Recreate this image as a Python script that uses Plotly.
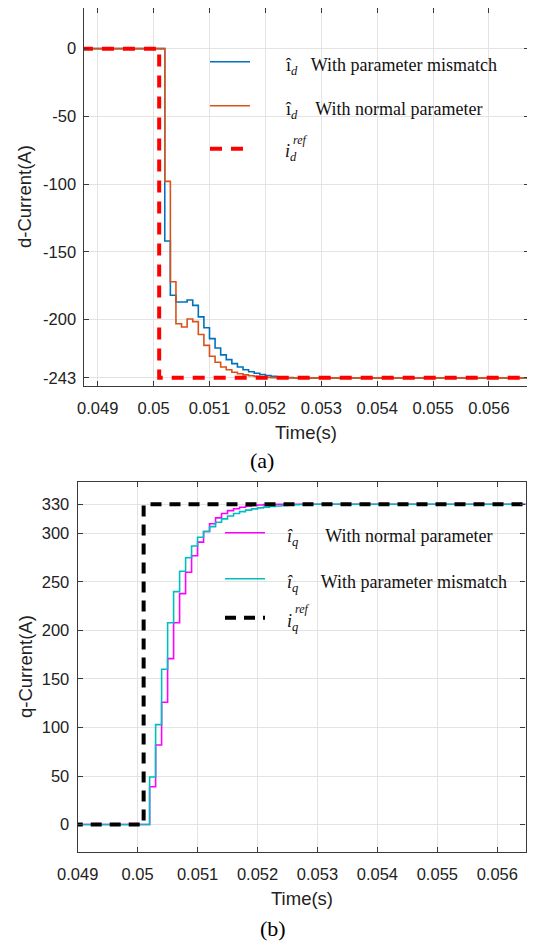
import plotly.graph_objects as go

# ---------------- data: (a) d-axis current ----------------
d_time = [0.0487, 0.0502, 0.0503, 0.0504, 0.0505, 0.0506, 0.0507, 0.0508, 0.0509,
          0.0510, 0.0511, 0.0512, 0.0513, 0.0514, 0.0515, 0.0516, 0.0517, 0.0518,
          0.0519, 0.0520, 0.0521, 0.0522, 0.0523, 0.0524, 0.0525, 0.0526, 0.0568]
d_mismatch = [0, -142, -182, -187, -187, -185.5, -189.5, -198, -206,
              -214, -221, -226, -229.5, -232.5, -235, -237, -238.5, -239.6,
              -240.5, -241.2, -241.8, -242.2, -242.5, -242.8, -243, -243, -243]
d_normal = [0, -98, -172, -203, -205.5, -199.5, -201.5, -211, -219,
            -227, -231.5, -235, -237, -238.8, -240, -240.8, -241.4, -241.9,
            -242.3, -242.6, -242.8, -243, -243, -243, -243, -243, -243]
d_ref_time = [0.0487, 0.0501, 0.0568]
d_ref = [0, -243, -243]

# ---------------- data: (b) q-axis current ----------------
q_time = [0.0489, 0.0502, 0.0503, 0.0504, 0.0505, 0.0506, 0.0507, 0.0508, 0.0509,
          0.0510, 0.0511, 0.0512, 0.0513, 0.0514, 0.0515, 0.0516, 0.0517, 0.0518,
          0.0519, 0.0520, 0.0521, 0.0522, 0.0523, 0.0524, 0.0525, 0.0526, 0.0527,
          0.0528, 0.0566]
q_normal = [0, 39, 82, 126, 171, 208, 238, 260, 277,
            291, 302, 310, 316, 320.5, 323.5, 325.5, 327, 328,
            328.8, 329.3, 329.7, 330, 330, 330, 330, 330, 330,
            330, 330]
q_mismatch = [0, 49, 103, 160, 208, 240, 261, 275, 287,
              296, 302, 307, 311.5, 315, 318, 320.5, 322.5, 324,
              325.3, 326.3, 327.1, 327.8, 328.3, 328.8, 329.2, 329.5, 329.8,
              330, 330]
q_ref_time = [0.0489, 0.0501, 0.0566]
q_ref = [0, 330, 330]

d_yticks = [0, -50, -100, -150, -200, -243]
d_yticklabels = ["0", "-50", "-100", "-150", "-200", "-243"]
q_yticks = [0, 50, 100, 150, 200, 250, 300, 330]
q_yticklabels = ["0", "50", "100", "150", "200", "250", "300", "330"]
x_ticks = [0.049, 0.05, 0.051, 0.052, 0.053, 0.054, 0.055, 0.056]
x_ticklabels = ["0.049", "0.05", "0.051", "0.052", "0.053", "0.054", "0.055", "0.056"]

# page body has an 8px margin: the figure starts at (8, 8) in the window
OFF = 8
W, H = 535 - OFF, 945 - OFF


def px(x):
    return (x - OFF) / W


def py(y):
    return 1 - (y - OFF) / H


fig = go.Figure()

LW = 1.6
# top
fig.add_trace(go.Scatter(x=d_time, y=d_mismatch, mode="lines", line=dict(color="#0072BD", width=LW, shape="hv"),
                         name="\u00a0", legend="legend", xaxis="x", yaxis="y"))
fig.add_trace(go.Scatter(x=d_time, y=d_normal, mode="lines", line=dict(color="#D95319", width=LW, shape="hv"),
                         name="\u00a0", legend="legend2", xaxis="x", yaxis="y"))
fig.add_trace(go.Scatter(x=d_ref_time, y=d_ref, mode="lines",
                         line=dict(color="#FF0000", width=4, shape="hv", dash="12px,9px"),
                         name="\u00a0", legend="legend3", xaxis="x", yaxis="y"))
# bottom
fig.add_trace(go.Scatter(x=q_time, y=q_normal, mode="lines", line=dict(color="#FF00FF", width=LW, shape="hv"),
                         name="\u00a0", legend="legend4", xaxis="x2", yaxis="y2"))
fig.add_trace(go.Scatter(x=q_time, y=q_mismatch, mode="lines", line=dict(color="#00BFBF", width=LW, shape="hv"),
                         name="\u00a0", legend="legend5", xaxis="x2", yaxis="y2"))
fig.add_trace(go.Scatter(x=q_ref_time, y=q_ref, mode="lines",
                         line=dict(color="#000000", width=4, shape="hv", dash="11px,8px"),
                         name="\u00a0", legend="legend6", xaxis="x2", yaxis="y2"))

AX = "#3a3a3a"
GRID = "#E3E3E3"
TICKF = dict(family="Liberation Sans, Arial, sans-serif", size=16.5, color="#222")

common_axis = dict(showgrid=True, gridcolor=GRID, gridwidth=1, showline=True, linecolor=AX, linewidth=1.2,
                   mirror="ticks", ticks="inside", ticklen=5, tickcolor=AX, tickwidth=1,
                   zeroline=False, tickfont=TICKF, automargin=False)

fig.update_layout(
    width=W, height=H,
    margin=dict(l=0, r=0, t=0, b=0, autoexpand=False),
    paper_bgcolor="white", plot_bgcolor="white",
    showlegend=True,
    xaxis=dict(domain=[px(83.5), px(529)], range=[0.048746, 0.056716], tickvals=x_ticks,
               ticktext=x_ticklabels, anchor="y", ticklabelstandoff=7, **common_axis),
    yaxis=dict(domain=[py(386), py(8)], range=[-249, 30], tickvals=d_yticks, ticktext=d_yticklabels,
               anchor="x", ticklabelstandoff=3, **common_axis),
    xaxis2=dict(domain=[px(77.7), px(525.5)], range=[0.049, 0.056471], tickvals=x_ticks,
                ticktext=x_ticklabels, anchor="y2", ticklabelstandoff=7, **common_axis),
    yaxis2=dict(domain=[py(851.7), py(482)], range=[-28, 353], tickvals=q_yticks, ticktext=q_yticklabels,
                anchor="x2", ticklabelstandoff=4, **common_axis),
)

leg_common = dict(xanchor="left", yanchor="middle", bgcolor="rgba(0,0,0,0)", borderwidth=0,
                  font=dict(family="Liberation Serif", size=18), itemwidth=40)
leg_pos = {
    "legend": (205, 62), "legend2": (205, 106), "legend3": (205, 149),
    "legend4": (220, 533), "legend5": (220, 579), "legend6": (220, 618),
}
fig.update_layout(**{k: dict(x=px(v[0]), y=py(v[1]), **leg_common) for k, v in leg_pos.items()})

SERIF = "Liberation Serif, Times New Roman, serif"
ann = []


def text(x, y, s, size=18, xanchor="left", yanchor="middle", family=SERIF, angle=0, color="#111"):
    ann.append(dict(x=px(x), y=py(y), xref="paper", yref="paper", text=s, showarrow=False,
                    xanchor=xanchor, yanchor=yanchor, textangle=angle,
                    font=dict(family=family, size=size, color=color)))


NB = "\u00a0"
# top legend text
text(283, 66, "î<sub><i>d</i></sub>" + NB * 3 + "With parameter mismatch")
text(283, 110, "î<sub><i>d</i></sub>" + NB * 4 + "With normal parameter")
text(283, 153, "<i>i</i><sub><i>d</i></sub>")
text(291, 140, "<i>ref</i>", size=12)
# bottom legend text
text(285, 537, "<i>î</i><sub><i>q</i></sub>" + NB * 6 + "With normal parameter")
text(285, 583, "<i>î</i><sub><i>q</i></sub>" + NB * 5 + "With parameter mismatch")
text(285, 622, "<i>i</i><sub><i>q</i></sub>")
text(293, 609, "<i>ref</i>", size=12)

SANS = "Liberation Sans, Arial, sans-serif"
# axis titles
text(25, 197, "d-Current(A)", size=18.5, xanchor="center", family=SANS, angle=-90, color="#222")
text(25, 667, "q-Current(A)", size=18.5, xanchor="center", family=SANS, angle=-90, color="#222")
text(306, 432, "Time(s)", size=18.5, xanchor="center", family=SANS, color="#222")
text(302, 898, "Time(s)", size=18.5, xanchor="center", family=SANS, color="#222")
# panel labels
text(262, 460, "(a)", size=22, xanchor="center", family=SERIF, color="#000")
text(273, 928, "(b)", size=22, xanchor="center", family=SERIF, color="#000")

fig.update_layout(annotations=ann)

fig.write_html("out.html")
